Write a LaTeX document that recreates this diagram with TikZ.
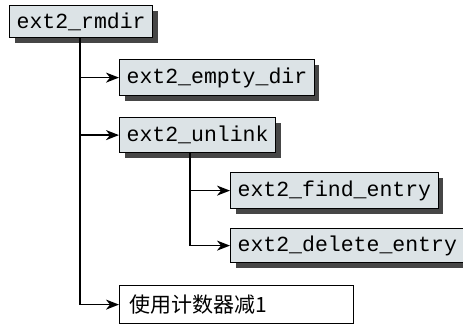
\documentclass[tikz,border=0pt]{standalone}
\usepackage{fontspec}
\setmonofont{Liberation Mono}
\newfontfamily\cjk{Noto Sans CJK SC}
\usetikzlibrary{shadows,arrows.meta,calc}
\definecolor{boxfill}{HTML}{DCE3E6}
\definecolor{shadowgray}{HTML}{464646}
\tikzset{
  fnbox/.style={draw=black, line width=1.2pt, fill=boxfill, anchor=north west,
    inner xsep=7pt, inner ysep=0pt, font=\ttfamily\fontsize{21.5}{24}\selectfont,
    drop shadow={shadow xshift=5pt, shadow yshift=-5pt, fill=shadowgray, opacity=1}},
  plainbox/.style={draw=black, line width=1.2pt, fill=white, anchor=north west,
    inner xsep=10pt, inner ysep=0pt, align=left, text width=214pt,
    font=\cjk\fontsize{21}{24}\selectfont},
  conn/.style={line width=1.6pt, arrows={-Stealth[length=13pt,width=10pt,inset=4pt]}},
  trunk/.style={line width=1.6pt}
}
\begin{document}
\begin{tikzpicture}[x=1pt,y=-1pt]
\useasboundingbox (0,0) rectangle (463,325);
\node[fnbox, minimum height=32pt] (r) at (9,5) {ext2\_rmdir};
\node[fnbox, minimum height=36pt] (e) at (119,59) {ext2\_empty\_dir};
\node[fnbox, minimum height=35pt] (u) at (119,117) {ext2\_unlink};
\node[fnbox, minimum height=36pt] (f) at (230,172) {ext2\_find\_entry};
\node[fnbox, minimum height=34pt] (d) at (230,228) {ext2\_delete\_entry};
\node[plainbox, minimum height=38pt] (c) at (119,285) {使用计数器减1};
\coordinate (rj) at ($(r.south west)+(71pt,0)$);
\coordinate (uj) at ($(u.south west)+(71pt,0)$);
\draw[trunk] (rj) -- (rj |- c.west);
\draw[conn] (rj |- e.west) -- (e.west);
\draw[conn] (rj |- u.west) -- (u.west);
\draw[conn] (rj |- c.west) -- (c.west);
\draw[trunk] (uj) -- (uj |- d.west);
\draw[conn] (uj |- f.west) -- (f.west);
\draw[conn] (uj |- d.west) -- (d.west);
\end{tikzpicture}
\end{document}
